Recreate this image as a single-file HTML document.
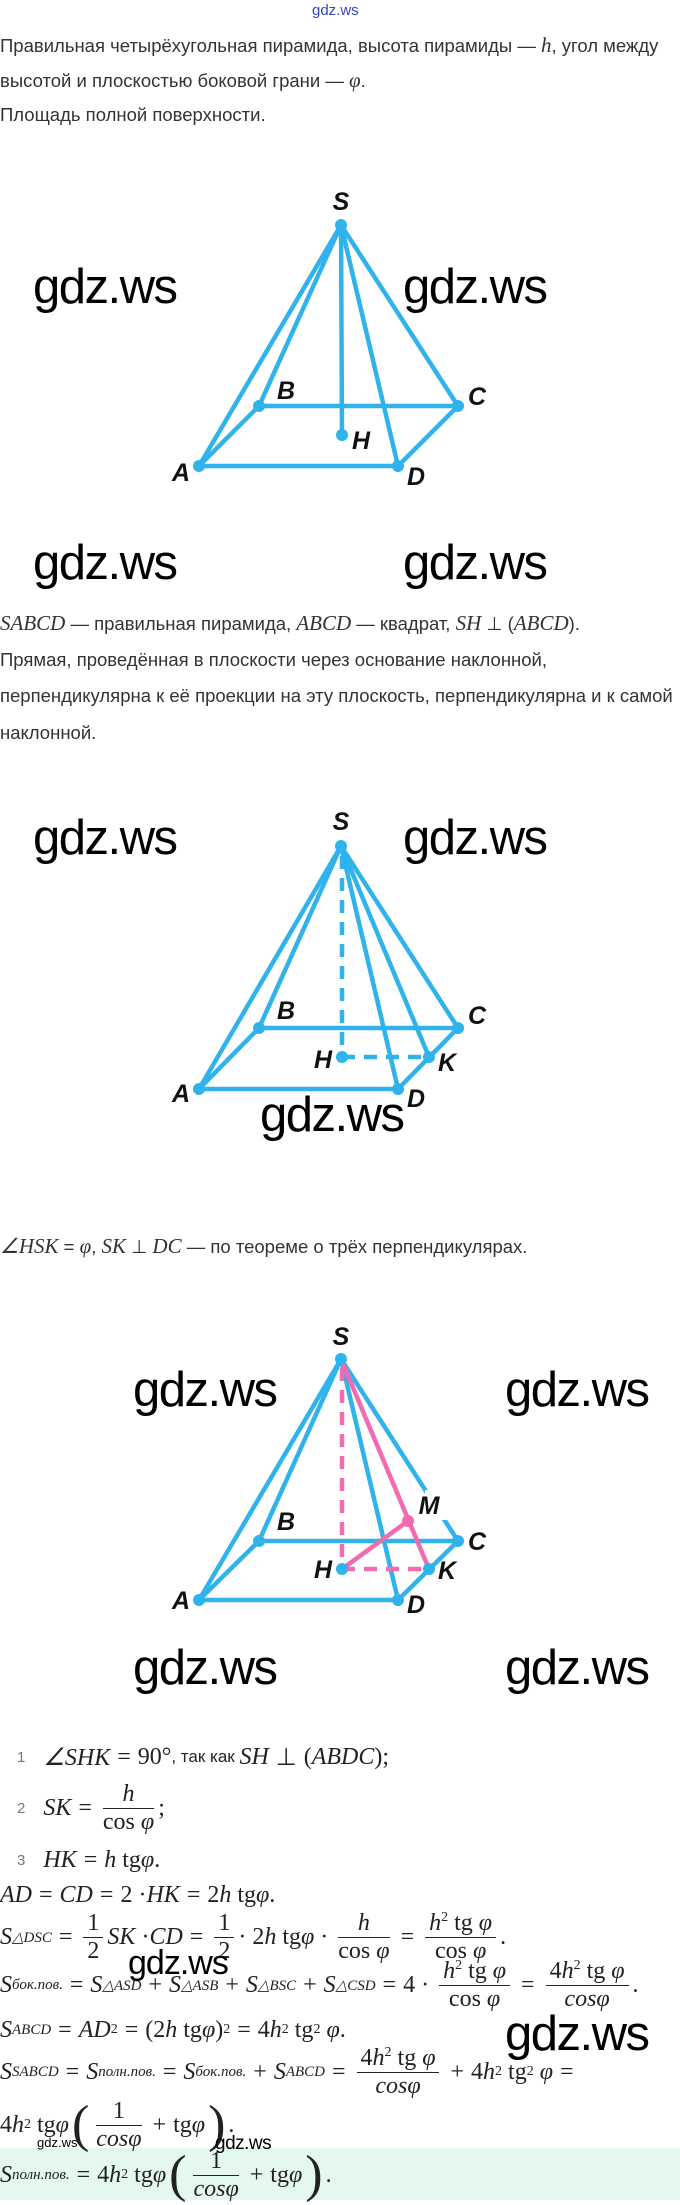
<!DOCTYPE html>
<html><head><meta charset="utf-8"><style>
body{margin:0;background:#fff;width:680px;height:2200px;position:relative;overflow:hidden}
.t{position:absolute;left:0;font-family:"Liberation Sans",sans-serif;font-size:18.5px;color:#333;white-space:nowrap}
.m{font-family:"Liberation Serif",serif;font-style:italic;font-size:21px}
.w{position:absolute;font-family:"Liberation Sans",sans-serif;color:#000;white-space:nowrap;letter-spacing:-1.5px;line-height:1}
.L{position:absolute;left:0;height:60px;display:flex;align-items:center;font-family:"Liberation Serif",serif;font-size:24px;color:#222;white-space:nowrap}
.i{font-style:italic}
.o{margin:0 7px}
.f{display:inline-flex;flex-direction:column;vertical-align:middle;text-align:center;margin:0 4px;line-height:1.1}
.f>span:first-child{border-bottom:1px solid #222;padding:0 4px}
.n{font-family:"Liberation Sans",sans-serif;font-size:15px;color:#777;margin-left:17px;margin-right:18px}
.s{font-family:"Liberation Sans",sans-serif;font-size:17px}
sub{font-size:15px}
sup{font-size:14px}
.p{font-size:52px;font-weight:100;line-height:1;margin:0 3px}
</style></head><body>
<div class="t" style="left:312px;top:2px;font-size:15px;color:#3344cc">gdz.ws</div>
<div class="t" style="top:33px">Правильная четырёхугольная пирамида, высота пирамиды — <span class="m">h</span>, угол между</div>
<div class="t" style="top:68px">высотой и плоскостью боковой грани — <span class="m">φ</span>.</div>
<div class="t" style="top:104px">Площадь полной поверхности.</div>

<div class="t" style="top:611px"><span class="m">SABCD</span> — правильная пирамида, <span class="m">ABCD</span> — квадрат, <span class="m">SH</span> ⊥ (<span class="m">ABCD</span>).</div>
<div class="t" style="top:649px">Прямая, проведённая в плоскости через основание наклонной,</div>
<div class="t" style="top:685px">перпендикулярна к её проекции на эту плоскость, перпендикулярна и к самой</div>
<div class="t" style="top:722px">наклонной.</div>
<div class="t" style="top:1234px"><span class="m">∠HSK</span> = <span class="m">φ</span>, <span class="m">SK</span> ⊥ <span class="m">DC</span> — по теореме о трёх перпендикулярах.</div>

<svg style="position:absolute;left:0;top:0" width="680" height="2200" font-family="Liberation Sans,sans-serif" font-style="italic" font-weight="bold" font-size="25" fill="#111" text-anchor="middle">
<g stroke="#2fb3ea" stroke-width="4.5" fill="none" stroke-linecap="round">
<line x1="341" y1="225" x2="199" y2="466"/><line x1="341" y1="225" x2="259" y2="406"/>
<line x1="341" y1="225" x2="458" y2="406"/><line x1="341" y1="225" x2="398" y2="466"/>
<line x1="341" y1="225" x2="342" y2="435"/>
<polyline points="199,466 398,466 458,406 259,406 199,466"/>
<line x1="341" y1="846" x2="199" y2="1089"/><line x1="341" y1="846" x2="259" y2="1028"/>
<line x1="341" y1="846" x2="458" y2="1028"/><line x1="341" y1="846" x2="398" y2="1089"/>
<line x1="341" y1="846" x2="429" y2="1057"/>
<polyline points="199,1089 398,1089 458,1028 259,1028 199,1089"/>
<line x1="342" y1="856" x2="342" y2="1057" stroke-dasharray="13,9" stroke-linecap="butt"/>
<line x1="342" y1="1057" x2="429" y2="1057" stroke-dasharray="13,9" stroke-linecap="butt"/>
<line x1="341" y1="1359" x2="199" y2="1600"/><line x1="341" y1="1359" x2="259" y2="1541"/>
<line x1="341" y1="1359" x2="458" y2="1541"/><line x1="341" y1="1359" x2="398" y2="1600"/>
<polyline points="199,1600 398,1600 458,1541 259,1541 199,1600"/>
</g>
<g fill="#2fb3ea">
<circle cx="341" cy="225" r="6"/><circle cx="199" cy="466" r="6"/><circle cx="259" cy="406" r="6"/><circle cx="458" cy="406" r="6"/><circle cx="398" cy="466" r="6"/><circle cx="342" cy="435" r="6"/>
<circle cx="341" cy="846" r="6"/><circle cx="199" cy="1089" r="6"/><circle cx="259" cy="1028" r="6"/><circle cx="458" cy="1028" r="6"/><circle cx="398" cy="1089" r="6"/><circle cx="342" cy="1057" r="6"/><circle cx="429" cy="1057" r="6"/>
</g>
<rect x="425" y="1490" width="22" height="30" fill="#fff"/>
<g stroke="#f06bb0" stroke-width="4.5" fill="none">
<line x1="341" y1="1359" x2="429" y2="1569"/>
<line x1="342" y1="1569" x2="408" y2="1521"/>
<line x1="342" y1="1368" x2="342" y2="1569" stroke-dasharray="13,9"/>
<line x1="342" y1="1569" x2="429" y2="1569" stroke-dasharray="13,9"/>
</g>
<g fill="#2fb3ea">
<circle cx="341" cy="1359" r="6"/><circle cx="199" cy="1600" r="6"/><circle cx="259" cy="1541" r="6"/><circle cx="458" cy="1541" r="6"/><circle cx="398" cy="1600" r="6"/><circle cx="342" cy="1569" r="6"/><circle cx="429" cy="1569" r="6"/>
</g>
<circle cx="408" cy="1521" r="6" fill="#f06bb0"/>
<text x="341" y="210">S</text><text x="286" y="399">B</text><text x="477" y="405">C</text><text x="361" y="449">H</text><text x="181" y="481">A</text><text x="416" y="485">D</text>
<text x="341" y="830">S</text><text x="286" y="1019">B</text><text x="477" y="1024">C</text><text x="323" y="1068">H</text><text x="447" y="1071">K</text><text x="181" y="1102">A</text><text x="416" y="1107">D</text>
<text x="341" y="1345">S</text><text x="286" y="1530">B</text><text x="477" y="1550">C</text><text x="323" y="1578">H</text><text x="447" y="1579">K</text><text x="181" y="1609">A</text><text x="416" y="1613">D</text><text x="429" y="1514">M</text>
</svg>

<div class="w" style="left:33px;top:263px;font-size:49px">gdz.ws</div>
<div class="w" style="left:403px;top:263px;font-size:49px">gdz.ws</div>
<div class="w" style="left:33px;top:539px;font-size:49px">gdz.ws</div>
<div class="w" style="left:403px;top:539px;font-size:49px">gdz.ws</div>
<div class="w" style="left:33px;top:814px;font-size:49px">gdz.ws</div>
<div class="w" style="left:403px;top:814px;font-size:49px">gdz.ws</div>
<div class="w" style="left:260px;top:1091px;font-size:49px">gdz.ws</div>
<div class="w" style="left:133px;top:1366px;font-size:49px">gdz.ws</div>
<div class="w" style="left:505px;top:1366px;font-size:49px">gdz.ws</div>
<div class="w" style="left:133px;top:1644px;font-size:49px">gdz.ws</div>
<div class="w" style="left:505px;top:1644px;font-size:49px">gdz.ws</div>

<div style="position:absolute;left:0;top:2148px;width:680px;height:52px;background:#e4f8ee"></div>

<div class="L" style="top:1727px"><span class="n">1</span><span class="i">∠SHK</span><span class="o">=</span>90°<span class="s">, так как&nbsp;</span><span class="i">SH</span><span class="o">⊥</span>(<span class="i">ABDC</span>);</div>
<div class="L" style="top:1778px"><span class="n">2</span><span class="i">SK</span><span class="o">=</span><span class="f"><span class="i">h</span><span>cos <i>φ</i></span></span>;</div>
<div class="L" style="top:1830px"><span class="n">3</span><span class="i">HK</span><span class="o">=</span><i>h</i>&nbsp;tg <i>φ</i>.</div>
<div class="L" style="top:1865px"><i>AD</i><span class="o">=</span><i>CD</i><span class="o">=</span>2 · <i>HK</i><span class="o">=</span>2<i>h</i>&nbsp;tg <i>φ</i>.</div>
<div class="L" style="top:1907px"><i>S</i><sub><i>△DSC</i></sub><span class="o">=</span><span class="f"><span>1</span><span>2</span></span><i>SK</i>&nbsp;· <i>CD</i><span class="o">=</span><span class="f"><span>1</span><span>2</span></span>· 2<i>h</i>&nbsp;tg <i>φ</i>&nbsp;·&nbsp;<span class="f"><span><i>h</i></span><span>cos <i>φ</i></span></span><span class="o">=</span><span class="f"><span><i>h</i><sup>2</sup> tg <i>φ</i></span><span>cos <i>φ</i></span></span>.</div>
<div class="L" style="top:1955px"><i>S</i><sub><i>бок.пов.</i></sub><span class="o">=</span><i>S</i><sub><i>△ASD</i></sub><span class="o">+</span><i>S</i><sub><i>△ASB</i></sub><span class="o">+</span><i>S</i><sub><i>△BSC</i></sub><span class="o">+</span><i>S</i><sub><i>△CSD</i></sub><span class="o">=</span>4 ·&nbsp;<span class="f"><span><i>h</i><sup>2</sup> tg <i>φ</i></span><span>cos <i>φ</i></span></span><span class="o">=</span><span class="f"><span>4<i>h</i><sup>2</sup> tg <i>φ</i></span><span><i>cosφ</i></span></span>.</div>
<div class="L" style="top:2000px"><i>S</i><sub><i>ABCD</i></sub><span class="o">=</span><i>AD</i><sup>2</sup><span class="o">=</span>(2<i>h</i>&nbsp;tg <i>φ</i>)<sup>2</sup><span class="o">=</span>4<i>h</i><sup>2</sup>&nbsp;tg<sup>2</sup>&nbsp;<i>φ</i>.</div>
<div class="L" style="top:2042px"><i>S</i><sub><i>SABCD</i></sub><span class="o">=</span><i>S</i><sub><i>полн.пов.</i></sub><span class="o">=</span><i>S</i><sub><i>бок.пов.</i></sub><span class="o">+</span><i>S</i><sub><i>ABCD</i></sub><span class="o">=</span><span class="f"><span>4<i>h</i><sup>2</sup> tg <i>φ</i></span><span><i>cosφ</i></span></span><span class="o">+</span>4<i>h</i><sup>2</sup>&nbsp;tg<sup>2</sup>&nbsp;<i>φ</i><span class="o">=</span></div>
<div class="L" style="top:2095px">4<i>h</i><sup>2</sup>&nbsp;tg <i>φ</i><span class="p">(</span><span class="f"><span>1</span><span><i>cosφ</i></span></span><span class="o">+</span>tg <i>φ</i><span class="p">)</span>.</div>
<div class="L" style="top:2145px"><i>S</i><sub><i>полн.пов.</i></sub><span class="o">=</span>4<i>h</i><sup>2</sup>&nbsp;tg <i>φ</i><span class="p">(</span><span class="f"><span>1</span><span><i>cosφ</i></span></span><span class="o">+</span>tg <i>φ</i><span class="p">)</span>.</div>

<div class="w" style="left:128px;top:1946px;font-size:34px;letter-spacing:-1px">gdz.ws</div>
<div class="w" style="left:505px;top:2010px;font-size:49px">gdz.ws</div>
<div class="w" style="left:37px;top:2136px;font-size:13px;letter-spacing:0">gdz.ws</div>
<div class="w" style="left:215px;top:2134px;font-size:19px;letter-spacing:-0.5px">gdz.ws</div>
</body></html>
